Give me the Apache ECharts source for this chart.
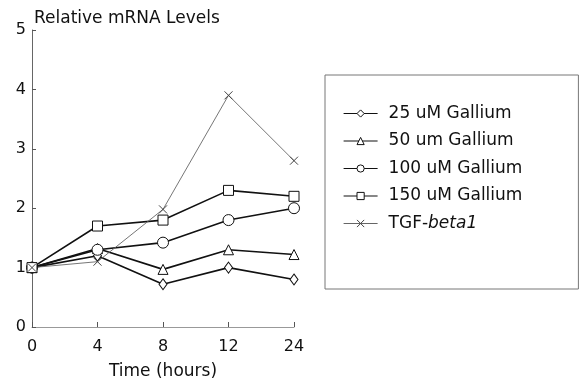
<!DOCTYPE html>
<html>
<head>
<meta charset="utf-8">
<script src="https://cdn.jsdelivr.net/npm/echarts@6/dist/echarts.min.js"></script>
<style>
  html, body { margin: 0; padding: 0; background: #fff; }
  #chart { width: 579px; height: 385px; }
</style>
</head>
<body>
<div id="chart"></div>
<script>
// time points (hours), shown as evenly spaced categories
const hours = ['0', '4', '8', '12', '24'];

const ga25 = [1.0, 1.2, 0.72, 1.0, 0.8];
const ga50 = [1.0, 1.32, 0.97, 1.3, 1.22];
const ga100 = [1.0, 1.3, 1.42, 1.8, 2.0];
const ga150 = [1.0, 1.7, 1.8, 2.3, 2.2];
const tgfBeta1 = [1.0, 1.1, 1.98, 3.9, 2.8];

const seriesNames = ['25 uM Gallium', '50 um Gallium', '100 uM Gallium', '150 uM Gallium', 'TGF-beta1'];

const FONT = 'DejaVu Sans';

const chart = echarts.init(document.getElementById('chart'));

const crossPath = 'path://M0,0L10,10M10,0L0,10';

function gallium(name, data, symbol, size) {
  return {
    name: name,
    type: 'line',
    data: data,
    symbol: symbol,
    symbolSize: size,
    showSymbol: true,
    lineStyle: { color: '#111', width: 1.6 },
    itemStyle: { color: '#fff', borderColor: '#111', borderWidth: 1 },
    emphasis: { disabled: true },
  };
}

const option = {
  backgroundColor: '#fff',
  animation: false,
  title: {
    text: 'Relative mRNA Levels',
    left: 29,
    top: 5,
    textStyle: { fontFamily: FONT, fontSize: 17, fontWeight: 'normal', color: '#111' },
  },
  grid: { left: 32, right: 285, top: 30, bottom: 56 },
  legend: {
    orient: 'vertical',
    left: 325,
    top: 75,
    padding: [30, 56, 57, 18],
    itemWidth: 34,
    itemHeight: 9,
    itemGap: 10.5,
    borderColor: '#777',
    borderWidth: 1,
    data: seriesNames,
    lineStyle: { width: 1.2 },
    itemStyle: { borderWidth: 1 },
    formatter: (name) => (name === 'TGF-beta1' ? 'TGF-{i|beta1}' : name),
    textStyle: {
      fontFamily: FONT,
      fontSize: 17,
      color: '#111',
      padding: [0, 0, 0, 6],
      rich: {
        i: { fontFamily: FONT, fontSize: 17, fontStyle: 'italic', color: '#111' },
      },
    },
  },
  xAxis: {
    type: 'category',
    data: hours,
    boundaryGap: false,
    name: 'Time (hours)',
    nameLocation: 'middle',
    nameGap: 36,
    nameTextStyle: { fontFamily: FONT, fontSize: 17, color: '#111' },
    axisLine: { lineStyle: { color: '#999', width: 1 } },
    axisTick: { inside: true, length: 5, lineStyle: { color: '#555' } },
    axisLabel: { fontFamily: FONT, fontSize: 16, color: '#111', margin: 12 },
    splitLine: { show: false },
  },
  yAxis: {
    type: 'value',
    min: 0,
    max: 5,
    interval: 1,
    axisLine: { show: true, lineStyle: { color: '#666', width: 1 } },
    axisTick: { show: true, inside: true, length: 4, lineStyle: { color: '#555' } },
    axisLabel: { fontFamily: FONT, fontSize: 16, color: '#111', margin: 6 },
    splitLine: { show: false },
  },
  series: [
    gallium(seriesNames[0], ga25, 'diamond', [8, 11]),
    gallium(seriesNames[1], ga50, 'triangle', 10),
    gallium(seriesNames[2], ga100, 'circle', 11),
    gallium(seriesNames[3], ga150, 'rect', 10),
    {
      name: seriesNames[4],
      type: 'line',
      data: tgfBeta1,
      symbol: crossPath,
      symbolSize: 8,
      lineStyle: { color: '#666', width: 0.9 },
      itemStyle: { color: 'none', borderColor: '#444', borderWidth: 1 },
      emphasis: { disabled: true },
    },
  ],
};

chart.setOption(option);
</script>
</body>
</html>
